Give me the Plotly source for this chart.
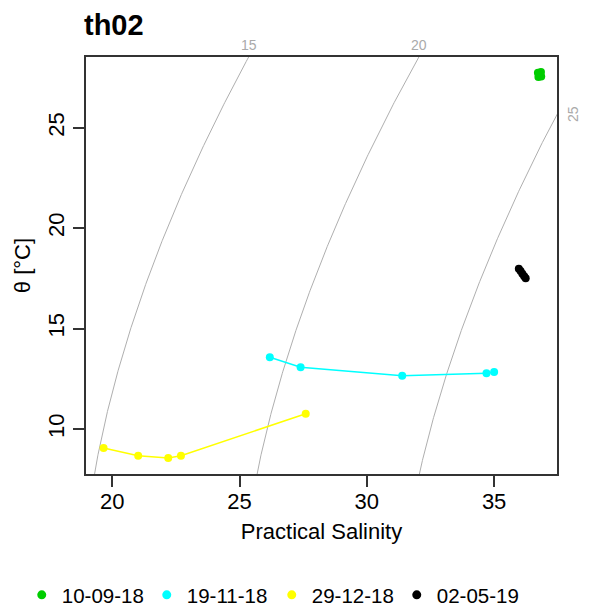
import numpy as np
import plotly.graph_objects as go

# Profiles at station th02: practical salinity and potential temperature
dates = ["10-09-18", "19-11-18", "29-12-18", "02-05-19"]
colors = ["#00CD00", "#00FFFF", "#FFFF00", "#000000"]

sal_100918 = [36.72, 36.84, 36.77, 36.85, 36.74]
theta_100918 = [27.74, 27.77, 27.62, 27.55, 27.52]

sal_191118 = [26.19, 27.40, 31.39, 34.70, 35.00]
theta_191118 = [13.57, 13.08, 12.65, 12.77, 12.84]

sal_291218 = [19.66, 21.02, 22.20, 22.70, 27.60]
theta_291218 = [9.05, 8.67, 8.56, 8.67, 10.76]

sal_020519 = [35.97, 36.04, 36.11, 36.18, 36.24]
theta_020519 = [17.98, 17.86, 17.73, 17.61, 17.50]

sigma_levels = [15, 20, 25]

x_range = [18.97, 37.47]
y_range = [7.76, 28.52]

series = [
    (sal_100918, theta_100918),
    (sal_191118, theta_191118),
    (sal_291218, theta_291218),
    (sal_020519, theta_020519),
]


def sigma_theta(S, T):
    """UNESCO EOS-80 density anomaly at surface pressure."""
    S = np.asarray(S, dtype=float)
    T = np.asarray(T, dtype=float)
    rho_w = (999.842594 + 6.793952e-2 * T - 9.095290e-3 * T**2
             + 1.001685e-4 * T**3 - 1.120083e-6 * T**4 + 6.536332e-9 * T**5)
    A = (8.24493e-1 - 4.0899e-3 * T + 7.6438e-5 * T**2
         - 8.2467e-7 * T**3 + 5.3875e-9 * T**4)
    B = -5.72466e-3 + 1.0227e-4 * T - 1.6546e-6 * T**2
    C = 4.8314e-4
    return rho_w + A * S + B * S**1.5 + C * S**2 - 1000.0


def salinity_for(level, T):
    """Salinity on a given isopycnal, by bisection."""
    T = np.asarray(T, dtype=float)
    lo = np.zeros_like(T)
    hi = np.full_like(T, 60.0)
    for _ in range(60):
        mid = 0.5 * (lo + hi)
        above = sigma_theta(mid, T) > level
        hi = np.where(above, mid, hi)
        lo = np.where(above, lo, mid)
    return 0.5 * (lo + hi)


def theta_for(level, S):
    """Temperature on a given isopycnal at fixed salinity, by bisection."""
    lo, hi = -2.0, 40.0
    for _ in range(60):
        mid = 0.5 * (lo + hi)
        if sigma_theta(S, mid) > level:
            lo = mid
        else:
            hi = mid
    return 0.5 * (lo + hi)


fig = go.Figure()

iso_color = "rgb(175,175,175)"
T_grid = np.linspace(y_range[0] - 1, y_range[1] + 1, 300)
annotations = []
for lev in sigma_levels:
    S_line = salinity_for(lev, T_grid)
    fig.add_trace(go.Scatter(x=S_line, y=T_grid, mode="lines",
                             line=dict(color=iso_color, width=1),
                             showlegend=False, hoverinfo="skip"))
    s_top = float(salinity_for(lev, np.array([y_range[1]]))[0])
    if s_top <= x_range[1]:
        annotations.append(dict(x=s_top, y=1, xref="x", yref="paper",
                                text=str(lev), showarrow=False,
                                yanchor="bottom", yshift=2,
                                font=dict(size=14, color="rgb(170,170,170)")))
    else:
        t_edge = theta_for(lev, x_range[1])
        annotations.append(dict(x=1, y=t_edge, xref="paper", yref="y",
                                text=str(lev), showarrow=False,
                                xanchor="left", xshift=6, textangle=-90,
                                font=dict(size=14, color="rgb(170,170,170)")))

for name, col, (s, t) in zip(dates, colors, series):
    fig.add_trace(go.Scatter(x=s, y=t, mode="lines+markers", name=name,
                             legendgroup=name, showlegend=False,
                             line=dict(color=col, width=1.5),
                             marker=dict(color=col, size=8)))
    # dot-only legend entry
    fig.add_trace(go.Scatter(x=[None], y=[None], mode="markers", name=name,
                             legendgroup=name,
                             marker=dict(color=col, size=9)))

font_family = "Liberation Sans, Arial, sans-serif"
axis_common = dict(showline=True, linecolor="#333333", linewidth=1.5,
                   mirror=True, showgrid=False, zeroline=False,
                   ticks="outside", ticklen=11, tickwidth=1.5,
                   tickcolor="#333333",
                   tickfont=dict(size=22, color="black", family=font_family))

plot_top, plot_bottom = 57, 474
plot_h = plot_bottom - plot_top

fig.update_layout(
    width=592, height=612,
    margin=dict(l=86, r=35, t=plot_top, b=612 - plot_bottom,
                autoexpand=False),
    paper_bgcolor="white", plot_bgcolor="white",
    font=dict(family=font_family, color="black"),
    title=dict(text="<b>th02</b>", x=84 / 592, xref="container",
               xanchor="left", y=1 - 25 / 612, yref="container",
               yanchor="middle", font=dict(size=29, color="black")),
    xaxis=dict(range=x_range, tickvals=[20, 25, 30, 35],
               ticklabelstandoff=-4,
               title=dict(text="Practical Salinity",
                          font=dict(size=22), standoff=10),
               **axis_common),
    yaxis=dict(range=y_range, tickvals=[10, 15, 20, 25], tickangle=-90,
               title=dict(text="θ [°C]", font=dict(size=22), standoff=8),
               **axis_common),
    legend=dict(orientation="h", x=-0.1364, xanchor="left",
                y=-(595 - plot_bottom) / plot_h, yanchor="middle",
                font=dict(size=20.5, color="black"),
                entrywidth=80, entrywidthmode="pixels",
                bgcolor="rgba(0,0,0,0)"),
    annotations=annotations,
    showlegend=True,
)

fig.write_html("out.html")
